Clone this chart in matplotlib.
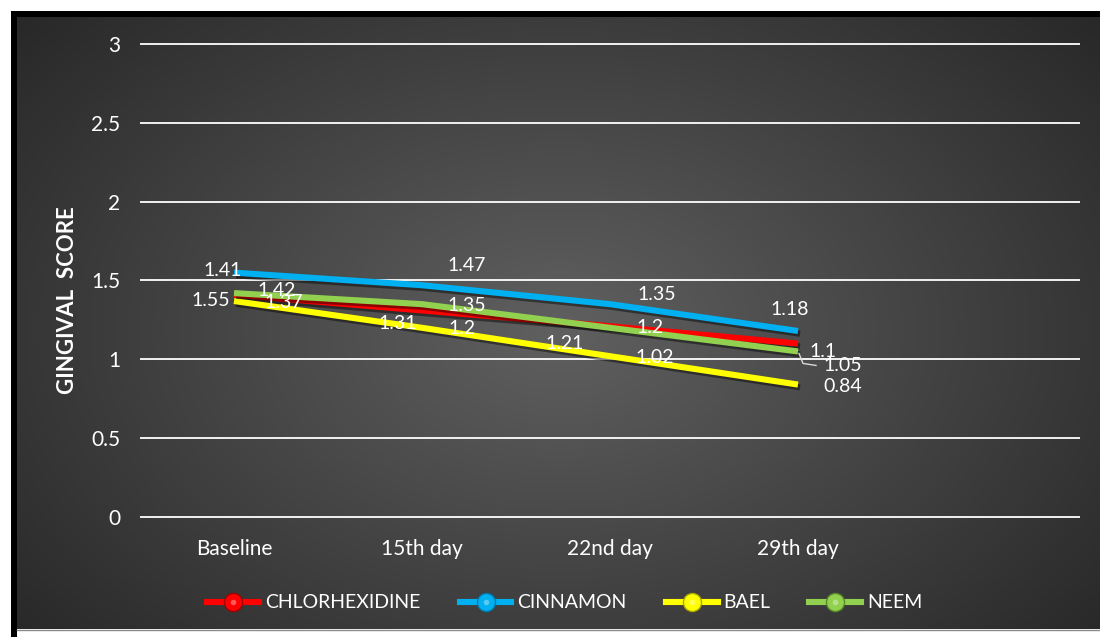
import numpy as np
import matplotlib
matplotlib.use("Agg")
import matplotlib.pyplot as plt
from matplotlib.lines import Line2D
from matplotlib.legend_handler import HandlerTuple
from matplotlib.patches import Rectangle
import matplotlib.patheffects as pe

plt.rcParams['font.family'] = ['Lato', 'DejaVu Sans']

# ---- data ----
categories = ["Baseline", "15th day", "22nd day", "29th day", ""]
series_names = ["CHLORHEXIDINE", "CINNAMON", "BAEL", "NEEM"]
chlorhexidine = [1.41, 1.31, 1.21, 1.1]
cinnamon = [1.55, 1.47, 1.35, 1.18]
bael = [1.37, 1.2, 1.02, 0.84]
neem = [1.42, 1.35, 1.2, 1.05]
y_ticks = [0, 0.5, 1, 1.5, 2, 2.5, 3]
y_tick_labels = ["0", "0.5", "1", "1.5", "2", "2.5", "3"]

series_values = [chlorhexidine, cinnamon, bael, neem]
colors = ["#FF0000", "#00B0F0", "#FFFF00", "#92D050"]
dark = ["#a00000", "#0078a8", "#a8a800", "#5a8a28"]

# label offsets in pixels (dx, dy downwards) for each series/point
label_offsets = [
    [(-11, -24), (-24, 13), (-45, 17), (25, 8)],
    [(-23, 28), (45, -20), (47, -10), (-8, -21)],
    [(50, 2), (40, 1), (45, 1), (45, 2)],
    [(43, -3), (45, 1), (40, 0), (45, 14)],
]

W, H, DPI = 1100, 637, 100
fig = plt.figure(figsize=(W / DPI, H / DPI), dpi=DPI, facecolor="white")

# ---- background panel with radial gradient ----
bg = fig.add_axes([0, 0, 1, 1], zorder=0)
bg.set_xlim(0, W)
bg.set_ylim(H, 0)
bg.axis("off")
x0, x1, y0, y1 = 17, 1100, 17, 629
gx, gy = np.meshgrid(np.linspace(x0, x1, 540), np.linspace(y0, y1, 320))
cx, cy = 560, 330
r = np.sqrt(((gx - cx) / 620) ** 2 + ((gy - cy) / 420) ** 2)
shade = (96 - 56 * np.clip(r / 1.15, 0, 1)) / 255.0
img = np.dstack([shade, shade, shade])
bg.imshow(img, extent=[x0, x1, y1, y0], aspect="auto", interpolation="bilinear")
bg.add_patch(Rectangle((11, 11), W - 11, 6, color="black", lw=0))
bg.add_patch(Rectangle((11, 11), 6, H - 11, color="black", lw=0))
bg.plot([17, W], [629.5, 629.5], color="#8a8a8a", lw=1)

# ---- chart axes ----
px_per_unit = 157.67
px_per_cat = 188.0
ext = 0.05
top_px = 44 - ext * px_per_unit
bot_px = 517 + ext * px_per_unit
ax = fig.add_axes([140 / W, 1 - bot_px / H, 940 / W, (bot_px - top_px) / H], zorder=1)
ax.set_facecolor("none")
ax.set_xlim(-0.5, len(categories) - 0.5)
ax.set_ylim(-ext, 3 + ext)
for s in ax.spines.values():
    s.set_visible(False)
ax.set_yticks(y_ticks)
ax.set_yticklabels(y_tick_labels)
ax.set_xticks(range(len(categories)))
ax.set_xticklabels(categories)
ax.tick_params(axis="both", length=0, colors="white", labelsize=15)
ax.tick_params(axis="y", pad=14)
ax.tick_params(axis="x", pad=10)
for y in y_ticks:
    ax.axhline(y, color="white", lw=1.3, zorder=1)

ax.set_ylabel("GINGIVAL  SCORE", color="white", fontsize=16, fontweight="bold")
ax.yaxis.set_label_coords(-0.066, 0.46)

xs = np.arange(len(chlorhexidine))
shadow = [pe.SimpleLineShadow(offset=(1.5, -2), shadow_color="black", alpha=0.45), pe.Normal()]
for vals, col in zip(series_values, colors):
    ax.plot(xs, vals, color=col, lw=4.4, solid_capstyle="butt", zorder=3, path_effects=shadow)

for vals, offs in zip(series_values, label_offsets):
    for i, (v, (dx, dy)) in enumerate(zip(vals, offs)):
        ax.annotate(f"{v:g}", xy=(i, v), xytext=(dx * 0.72, -dy * 0.72),
                    textcoords="offset points", ha="center", va="center",
                    color="white", fontsize=14, zorder=5)

# leader line for the NEEM end label
lx = [3 + 1 / px_per_cat, 3 + 5 / px_per_cat, 3 + 18 / px_per_cat]
ly = [neem[3] - 2 / px_per_unit, neem[3] - 12 / px_per_unit, neem[3] - 14 / px_per_unit]
ax.plot(lx, ly, color="#d8d8d8", lw=1, zorder=4)

# ---- legend with sphere-like markers ----
handles = []
for col, dk in zip(colors, dark):
    h_line = Line2D([], [], color=col, lw=4.4, marker="o", markersize=13,
                    markerfacecolor=dk, markeredgecolor=dk)
    h_mid = Line2D([], [], lw=0, marker="o", markersize=11, markerfacecolor=col,
                   markeredgecolor=col)
    h_hi = Line2D([], [], lw=0, marker="o", markersize=4,
                  markerfacecolor="white", markeredgecolor="none", alpha=0.35)
    handles.append((h_line, h_mid, h_hi))
leg = fig.legend(handles, series_names, loc="center", bbox_to_anchor=(565 / W, 1 - 603 / H),
                 ncol=4, frameon=False, fontsize=14, handlelength=2.67,
                 handletextpad=0.31, columnspacing=2.0,
                 handler_map={tuple: HandlerTuple(ndivide=1, pad=0)})
for t in leg.get_texts():
    t.set_color("white")

fig.savefig("out.png", dpi=DPI, facecolor="white")
